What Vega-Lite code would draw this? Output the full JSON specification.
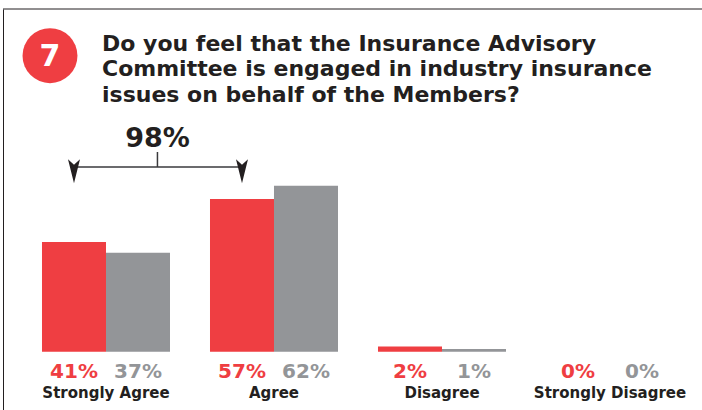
{
  "$schema": "https://vega.github.io/schema/vega-lite/v6.json",
  "width": 699,
  "height": 401,
  "autosize": {"type": "none"},
  "padding": {"left": 3, "top": 9, "right": 0, "bottom": 0},
  "background": "white",
  "config": {
    "view": {"stroke": null},
    "font": "DejaVu Sans",
    "axisY": {"domain": true, "domainColor": "#231F20", "domainWidth": 1, "labels": false, "ticks": false, "grid": false},
    "axisX": {"domain": false, "labels": false, "ticks": false, "grid": false}
  },
  "title": {
    "text": ["Do you feel that the Insurance Advisory", "Committee is engaged in industry insurance", "issues on behalf of the Members?"],
    "anchor": "start",
    "frame": "group",
    "orient": "top",
    "font": "DejaVu Sans",
    "fontSize": 22,
    "fontWeight": "bold",
    "color": "#231F20",
    "lineHeight": 25.5,
    "offset": 0,
    "dx": 99,
    "dy": 98
  },
  "datasets": {
    "responses": [
      {"category": "Strongly Agree", "series": "Current", "value": 0.41},
      {"category": "Strongly Agree", "series": "Previous", "value": 0.37},
      {"category": "Agree", "series": "Current", "value": 0.57},
      {"category": "Agree", "series": "Previous", "value": 0.62},
      {"category": "Disagree", "series": "Current", "value": 0.02},
      {"category": "Disagree", "series": "Previous", "value": 0.01},
      {"category": "Strongly Disagree", "series": "Current", "value": 0},
      {"category": "Strongly Disagree", "series": "Previous", "value": 0}
    ],
    "badge": [{"number": "7"}]
  },
  "layer": [
    {
      "data": {"name": "responses"},
      "mark": {"type": "bar"},
      "encoding": {
        "x": {
          "field": "category", "type": "nominal", "title": null,
          "scale": {"type": "band", "domain": ["Strongly Agree", "Agree", "Disagree", "Strongly Disagree"], "paddingInner": 0.2381, "paddingOuter": 0.1994, "align": 0.582, "round": false}
        },
        "xOffset": {"field": "series", "type": "nominal", "scale": {"domain": ["Current", "Previous"], "paddingInner": 0, "paddingOuter": 0}},
        "y": {"field": "value", "type": "quantitative", "title": null, "scale": {"domain": [-0.21716, 1.2791], "nice": false, "zero": false}},
        "color": {"field": "series", "type": "nominal", "legend": null, "scale": {"domain": ["Current", "Previous"], "range": ["#EF3E42", "#939598"]}}
      }
    },
    {
      "data": {"name": "responses"},
      "mark": {"type": "text", "font": "DejaVu Sans", "fontSize": 20, "fontWeight": "bold", "baseline": "middle", "dy": 20.5},
      "encoding": {
        "x": {"field": "category", "type": "nominal", "title": null},
        "xOffset": {"field": "series", "type": "nominal"},
        "y": {"datum": 0, "type": "quantitative", "title": null},
        "text": {"field": "value", "type": "quantitative", "format": ".0%"},
        "color": {"field": "series", "type": "nominal", "legend": null}
      }
    },
    {
      "data": {"name": "responses"},
      "transform": [{"filter": "datum.series === 'Current'"}],
      "mark": {"type": "text", "font": "DejaVu Sans", "fontSize": 15, "fontWeight": "bold", "baseline": "middle", "dy": 41.5, "color": "#231F20"},
      "encoding": {
        "x": {"field": "category", "type": "nominal", "title": null},
        "y": {"datum": 0, "type": "quantitative", "title": null},
        "text": {"field": "category", "type": "nominal"}
      }
    },
    {
      "data": {"name": "responses"},
      "transform": [{"filter": "datum.series === 'Current' && (datum.category === 'Strongly Agree' || datum.category === 'Agree')"}],
      "mark": {"type": "line", "color": "#3A3A3C", "strokeWidth": 1.5},
      "encoding": {
        "x": {"field": "category", "type": "nominal", "title": null},
        "xOffset": {"field": "series", "type": "nominal"},
        "y": {"datum": 0.6896, "type": "quantitative", "title": null}
      }
    },
    {
      "data": {"name": "responses"},
      "transform": [{"filter": "datum.series === 'Current' && (datum.category === 'Strongly Agree' || datum.category === 'Agree')"}],
      "mark": {"type": "point", "shape": "M-0.5,-1 L0,-0.55 L0.5,-1 L0,1 Z", "filled": true, "size": 576, "color": "#231F20", "opacity": 1},
      "encoding": {
        "x": {"field": "category", "type": "nominal", "title": null},
        "xOffset": {"field": "series", "type": "nominal"},
        "y": {"datum": 0.6735, "type": "quantitative", "title": null}
      }
    },
    {
      "data": {"name": "badge"},
      "mark": {"type": "rule", "color": "#3A3A3C", "strokeWidth": 1.5},
      "encoding": {
        "x": {"datum": "Strongly Agree", "type": "nominal", "bandPosition": 0.902, "title": null},
        "y": {"datum": 0.7455, "type": "quantitative", "title": null},
        "y2": {"datum": 0.6896}
      }
    },
    {
      "data": {"name": "responses"},
      "transform": [
        {"filter": "datum.series === 'Current' && (datum.category === 'Strongly Agree' || datum.category === 'Agree')"},
        {"aggregate": [{"op": "sum", "field": "value", "as": "combined"}]}
      ],
      "mark": {"type": "text", "font": "DejaVu Sans", "fontSize": 27, "fontWeight": "bold", "baseline": "alphabetic", "align": "center", "color": "#231F20"},
      "encoding": {
        "x": {"datum": "Strongly Agree", "type": "nominal", "bandPosition": 0.902, "title": null},
        "y": {"datum": 0.7642, "type": "quantitative", "title": null},
        "text": {"field": "combined", "type": "quantitative", "format": ".0%"}
      }
    },
    {
      "data": {"name": "badge"},
      "mark": {"type": "point", "shape": "circle", "filled": true, "size": 3019, "color": "#EF3E42", "opacity": 1},
      "encoding": {
        "x": {"datum": "Strongly Agree", "type": "nominal", "bandPosition": 0.0625, "title": null},
        "y": {"datum": 1.1049, "type": "quantitative", "title": null}
      }
    },
    {
      "data": {"name": "badge"},
      "mark": {"type": "text", "font": "DejaVu Sans", "fontSize": 30, "fontWeight": "bold", "baseline": "middle", "align": "center", "color": "white", "dy": 1},
      "encoding": {
        "x": {"datum": "Strongly Agree", "type": "nominal", "bandPosition": 0.0625, "title": null},
        "y": {"datum": 1.1049, "type": "quantitative", "title": null},
        "text": {"field": "number", "type": "nominal"}
      }
    },
    {
      "data": {"name": "badge"},
      "mark": {"type": "rule", "color": "#231F20", "strokeWidth": 1},
      "encoding": {
        "y": {"datum": 1.2791, "type": "quantitative", "title": null}
      }
    }
  ]
}
